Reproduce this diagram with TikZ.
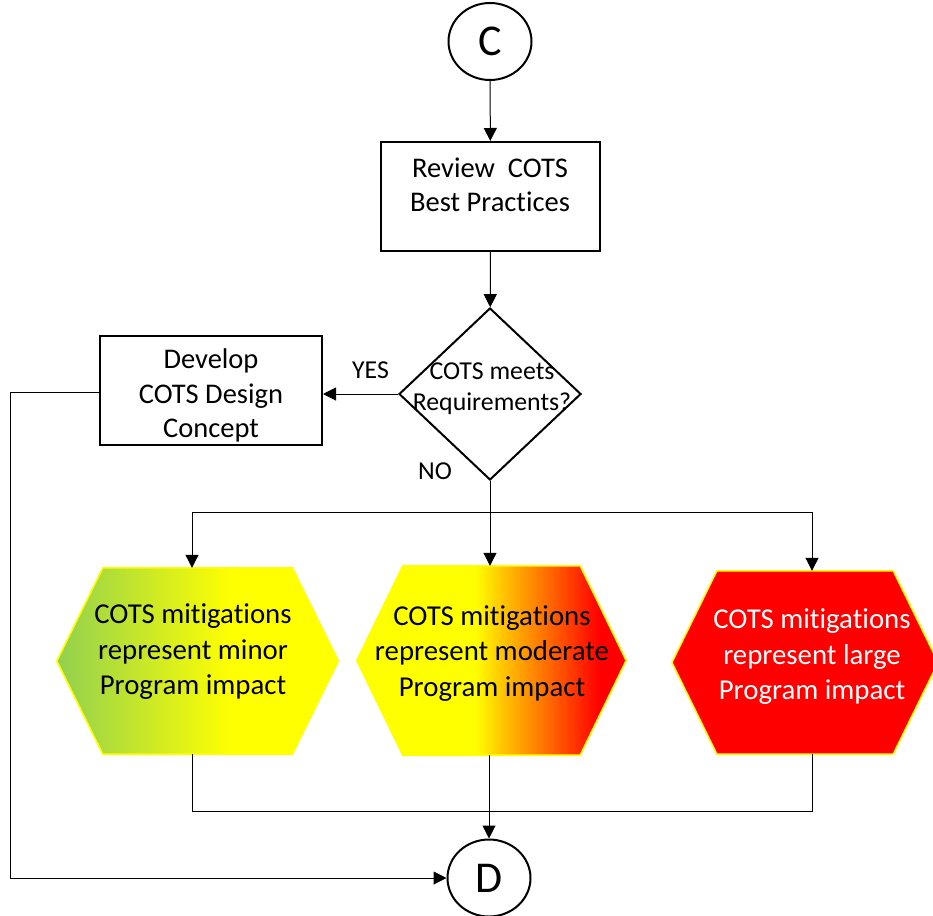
\documentclass[tikz,border=0pt]{standalone}
\usepackage{fontspec}
\setmainfont{Carlito}[Ligatures=NoCommon]
\usetikzlibrary{shapes.geometric,arrows.meta}

\definecolor{lowgreen}{HTML}{92D050}
\definecolor{hiyellow}{HTML}{FFFF00}
\definecolor{midorange}{HTML}{FFC000}
\definecolor{hotorange}{HTML}{FF5A00}
\definecolor{hired}{HTML}{FF0000}

% horizontal fills of the impact hexagons (25bp = left edge, 75bp = right edge)
\pgfdeclarehorizontalshading{minorfill}{100bp}{color(0bp)=(lowgreen); color(25bp)=(lowgreen); color(56bp)=(hiyellow); color(100bp)=(hiyellow)}
\pgfdeclarehorizontalshading{moderatefill}{100bp}{color(0bp)=(hiyellow); color(47bp)=(hiyellow); color(52.5bp)=(midorange); color(62bp)=(hotorange); color(70bp)=(hired); color(100bp)=(hired)}

% hexagon outline built on the anchors of a rectangle node: #1 node, #2 corner inset
\newcommand\hexoutline[2]{(#1.west) -- ([xshift=#2]#1.north west) -- ([xshift=-#2]#1.north east) -- (#1.east) -- ([xshift=-#2]#1.south east) -- ([xshift=#2]#1.south west) -- cycle}

\tikzset{
  bigtext/.style={font=\fontsize{28.5}{34.5}\selectfont, align=center, inner sep=0pt},
  smalltext/.style={font=\fontsize{25.8}{31}\selectfont, align=center, inner sep=0pt},
  hextext/.style={font=\fontsize{28.8}{35.5}\selectfont, align=center, inner sep=0pt},
  flowbox/.style={draw, line width=2pt, rectangle, inner sep=0pt},
  linkcircle/.style={draw, line width=2pt, ellipse, minimum width=83pt, minimum height=77pt, inner sep=0pt, font=\fontsize{44}{48}\selectfont},
  decision/.style={draw, line width=2pt, diamond, inner sep=0pt},
  hexbox/.style={rectangle, inner sep=0pt},
  hexedge/.style={draw=hiyellow, line width=1.6pt},
  conn/.style={line width=1pt},
  arr/.style={conn, -{Triangle[length=13pt,width=13pt]}},
}

\begin{document}
\begin{tikzpicture}[x=1pt, y=-1pt]
\useasboundingbox (0,0) rectangle (933,915);

% process steps
\node[linkcircle] (C) at (490,41.5) {C};
\node[flowbox, minimum width=219pt, minimum height=109pt] (review) at (490.5,196.5) {};
\node[bigtext] (reviewtext) at (490,185) {Review~~COTS\\Best Practices};

\node[decision, minimum width=182pt, minimum height=172pt] (dec) at (490,394) {};
\node[smalltext] (dectext) at (492,389) {COTS meets\\Requirements?};

\node[flowbox, minimum width=222pt, minimum height=109pt] (dev) at (211,390) {};
\node[bigtext] (devtext) at (211,395.5) {Develop\\COTS Design\\Concept};

\node[smalltext] (yes) at (370.5,370.5) {YES};
\node[smalltext] (no) at (435,471.5) {NO};

% impact hexagons
\node[hexbox, minimum width=281pt, minimum height=186pt] (h1) at (197.5,661) {};
\node[hexbox, minimum width=269pt, minimum height=189pt] (h2) at (491.5,660.5) {};
\node[hexbox, minimum width=266pt, minimum height=183pt] (h3) at (805,662.5) {};

\shadedraw[shading=minorfill, hexedge] \hexoutline{h1}{46pt};
\shadedraw[shading=moderatefill, hexedge] \hexoutline{h2}{46pt};
\filldraw[fill=hired, hexedge] \hexoutline{h3}{45pt};

\node[hextext] (h1text) at (193,652) {COTS mitigations\\represent minor\\Program impact};
\node[hextext] (h2text) at (492,653.5) {COTS mitigations\\represent moderate\\Program impact};
\node[hextext, text=white] (h3text) at (812,657) {COTS mitigations\\represent large\\Program impact};

\node[linkcircle] (D) at (489,878) {D};

% connectors
\coordinate (split) at (490,512);
\coordinate (merge) at (490,811);

\draw[arr] (C) -- (review);
\draw[arr] (review) -- (dec);
\draw[arr] (dec.west) -- (dec.west -| dev.east);
\draw[arr] (dec.south) -- (dec.south |- h2.north);
\draw[conn] ([xshift=-5.5pt]h1.north |- split) -- ([xshift=7pt]h3.north |- split);
\draw[arr] ([xshift=-5.5pt]h1.north |- split) -- ([xshift=-5.5pt]h1.north);
\draw[arr] ([xshift=7pt]h3.north |- split) -- ([xshift=7pt]h3.north);

\draw[conn] ([xshift=-5.5pt]h1.south) -- ([xshift=-5.5pt]h1.south |- merge) -- ([xshift=7pt]h3.south |- merge) -- ([xshift=7pt]h3.south);
\draw[arr] (D.north |- h2.south) -- (D.north);

\draw[arr] (dev.west |- 0,392) -- (10,392) |- (D.west);
\end{tikzpicture}
\end{document}
